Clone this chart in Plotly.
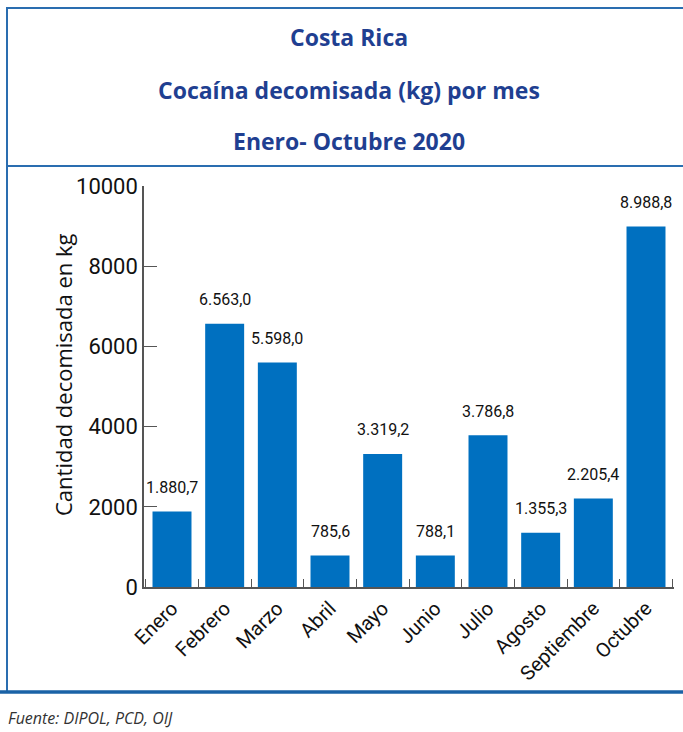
import plotly.graph_objects as go

meses = ["Enero", "Febrero", "Marzo", "Abril", "Mayo", "Junio", "Julio",
         "Agosto", "Septiembre", "Octubre"]
cocaina_kg = [1880.7, 6563.0, 5598.0, 785.6, 3319.2, 788.1, 3786.8,
              1355.3, 2205.4, 8988.8]
y_ticks = [0, 2000, 4000, 6000, 8000, 10000]
y_tick_text = ["0", "2000", "4000", "6000", "8000", "10000"]

titulo = ["Costa Rica", "Cocaína decomisada (kg) por mes", "Enero- Octubre 2020"]
fuente = "Fuente: DIPOL, PCD, OIJ"
y_titulo = "Cantidad decomisada en kg"


def fmt_es(v):
    s = f"{v:,.1f}"
    return s.replace(",", "X").replace(".", ",").replace("X", ".")


W, H = 683, 732
L, R, T, B = 144, 9, 186, 145
PW, PH = W - L - R, H - T - B


def px(x):
    return (x - L) / PW


def py(y):
    return (H - B - y) / PH


COND = "Roboto, Open Sans, sans-serif"
TFONT = "Open Sans, Lato, sans-serif"
BAR = "#0070c0"
NAVY = "#1f3f91"
FRAME = "#2a6db0"
AX = "#555555"

fig = go.Figure()
fig.add_trace(go.Bar(x=meses, y=cocaina_kg, marker=dict(color=BAR, line=dict(width=0)),
                     width=0.74, hoverinfo="x+y"))

annotations = []
for m, v in zip(meses, cocaina_kg):
    annotations.append(dict(x=m, y=v, xref="x", yref="y", text=fmt_es(v),
                            showarrow=False, yanchor="middle", yshift=24,
                            font=dict(family=COND, size=16, color="#111111")))

for txt, ypix in zip(titulo, [37, 90, 141]):
    annotations.append(dict(x=px(349), y=py(ypix), xref="paper", yref="paper",
                            text=f"<b>{txt}</b>", showarrow=False,
                            xanchor="center", yanchor="middle",
                            font=dict(family=TFONT, size=23, color=NAVY)))

annotations.append(dict(x=px(63), y=py(375), xref="paper", yref="paper",
                        text=y_titulo, showarrow=False, textangle=-90,
                        xanchor="center", yanchor="middle",
                        font=dict(family=TFONT, size=22, color="#111111")))

annotations.append(dict(x=px(6), y=py(718), xref="paper", yref="paper",
                        text=f"<i>{fuente}</i>", showarrow=False,
                        xanchor="left", yanchor="middle",
                        font=dict(family=TFONT, size=16, color="#333333")))

shapes = [
    dict(type="line", xref="paper", yref="paper", x0=px(7), x1=px(7), y0=py(7), y1=py(692),
         line=dict(color=FRAME, width=2)),
    dict(type="line", xref="paper", yref="paper", x0=px(7), x1=px(700), y0=py(8), y1=py(8),
         line=dict(color=FRAME, width=2)),
    dict(type="line", xref="paper", yref="paper", x0=px(7), x1=px(700), y0=py(166), y1=py(166),
         line=dict(color=FRAME, width=2)),
    dict(type="line", xref="paper", yref="paper", x0=px(-5), x1=px(700), y0=py(692), y1=py(692),
         line=dict(color="#1a62a6", width=3.5)),
]

fig.update_layout(
    width=W, height=H,
    margin=dict(l=L, r=R, t=T, b=B, pad=0),
    paper_bgcolor="white", plot_bgcolor="white",
    showlegend=False,
    annotations=annotations, shapes=shapes,
    xaxis=dict(type="category", showline=True, linecolor=AX, linewidth=1.5,
               ticks="inside", ticklen=8, tickcolor=AX, tickwidth=1.2,
               tickson="boundaries", tickangle=-45, showgrid=False,
               tickfont=dict(family=COND, size=20, color="#111111")),
    yaxis=dict(range=[0, 10000], tickvals=y_ticks, ticktext=y_tick_text,
               showline=True, linecolor=AX,
               linewidth=1.5, ticks="inside", ticklen=13, tickcolor=AX, tickwidth=1.2,
               showgrid=False, zeroline=False,
               tickfont=dict(family=COND, size=22, color="#111111")),
)

fig.write_html("out.html", config={"displayModeBar": False},
               post_script="document.body.style.margin='0';document.body.style.overflow='hidden';")
